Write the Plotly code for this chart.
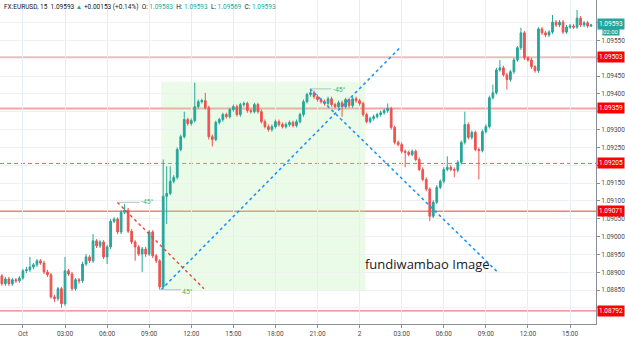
import pandas as pd
import plotly.graph_objects as go

# ---------------- data (EURUSD 15m) ----------------
start_time = "2019-09-30 22:30"

open_ = [1.08890, 1.08868, 1.08881, 1.08868, 1.08879, 1.08876, 1.08884, 1.08904, 1.08907, 1.08915,
         1.08921, 1.08932, 1.08926, 1.08901, 1.08893, 1.08831, 1.08826, 1.08854, 1.08812, 1.08904,
         1.08895, 1.08854, 1.08879, 1.08876, 1.08923, 1.08943, 1.08932, 1.08988, 1.08974, 1.08985,
         1.08943, 1.08971, 1.09043, 1.09049, 1.09013, 1.09068, 1.09074, 1.09015, 1.08985, 1.08971,
         1.08951, 1.08965, 1.08951, 1.09013, 1.08946, 1.08932, 1.08859, 1.09113, 1.09121, 1.09155,
         1.09166, 1.09244, 1.09280, 1.09328, 1.09317, 1.09325, 1.09364, 1.09378, 1.09381, 1.09361,
         1.09280, 1.09272, 1.09320, 1.09328, 1.09342, 1.09336, 1.09356, 1.09364, 1.09342, 1.09370,
         1.09373, 1.09353, 1.09350, 1.09370, 1.09350, 1.09322, 1.09308, 1.09300, 1.09308, 1.09322,
         1.09314, 1.09308, 1.09314, 1.09320, 1.09311, 1.09322, 1.09342, 1.09378, 1.09398, 1.09403,
         1.09392, 1.09384, 1.09378, 1.09373, 1.09386, 1.09370, 1.09364, 1.09375, 1.09364, 1.09384,
         1.09367, 1.09386, 1.09381, 1.09373, 1.09342, 1.09322, 1.09331, 1.09336, 1.09342, 1.09347,
         1.09353, 1.09359, 1.09306, 1.09264, 1.09258, 1.09239, 1.09236, 1.09230, 1.09239, 1.09216,
         1.09188, 1.09160, 1.09133, 1.09057, 1.09096, 1.09138, 1.09155, 1.09188, 1.09194, 1.09188,
         1.09186, 1.09208, 1.09264, 1.09314, 1.09278, 1.09292, 1.09244, 1.09241, 1.09294, 1.09308,
         1.09389, 1.09403, 1.09467, 1.09473, 1.09453, 1.09440, 1.09462, 1.09495, 1.09529, 1.09571,
         1.09501, 1.09495, 1.09476, 1.09465, 1.09582, 1.09571, 1.09565, 1.09573, 1.09601, 1.09593,
         1.09601, 1.09573, 1.09587, 1.09590, 1.09587, 1.09612, 1.09593, 1.09599, 1.09590]

high = [1.08895, 1.08887, 1.08887, 1.08884, 1.08884, 1.08890, 1.08909, 1.08915, 1.08943, 1.08926,
        1.08937, 1.08937, 1.08932, 1.08907, 1.08898, 1.08837, 1.08859, 1.08859, 1.08943, 1.08909,
        1.08901, 1.08884, 1.08884, 1.08929, 1.08951, 1.08948, 1.09007, 1.08993, 1.08990, 1.08990,
        1.08976, 1.09049, 1.09054, 1.09054, 1.09074, 1.09091, 1.09080, 1.09021, 1.08990, 1.08976,
        1.08971, 1.08971, 1.09018, 1.09018, 1.08951, 1.08937, 1.09216, 1.09197, 1.09197, 1.09172,
        1.09250, 1.09286, 1.09350, 1.09333, 1.09331, 1.09431, 1.09384, 1.09386, 1.09403, 1.09367,
        1.09286, 1.09325, 1.09333, 1.09347, 1.09347, 1.09361, 1.09370, 1.09370, 1.09375, 1.09378,
        1.09378, 1.09359, 1.09375, 1.09375, 1.09356, 1.09328, 1.09314, 1.09314, 1.09328, 1.09328,
        1.09320, 1.09320, 1.09325, 1.09325, 1.09328, 1.09347, 1.09384, 1.09403, 1.09414, 1.09409,
        1.09398, 1.09389, 1.09384, 1.09392, 1.09392, 1.09375, 1.09381, 1.09381, 1.09389, 1.09389,
        1.09392, 1.09392, 1.09386, 1.09378, 1.09347, 1.09336, 1.09342, 1.09347, 1.09353, 1.09359,
        1.09373, 1.09364, 1.09311, 1.09269, 1.09264, 1.09244, 1.09241, 1.09244, 1.09244, 1.09222,
        1.09194, 1.09166, 1.09138, 1.09102, 1.09144, 1.09160, 1.09194, 1.09225, 1.09200, 1.09194,
        1.09214, 1.09269, 1.09350, 1.09320, 1.09297, 1.09297, 1.09250, 1.09300, 1.09314, 1.09395,
        1.09426, 1.09473, 1.09495, 1.09479, 1.09459, 1.09467, 1.09501, 1.09534, 1.09585, 1.09576,
        1.09506, 1.09501, 1.09481, 1.09587, 1.09587, 1.09576, 1.09579, 1.09621, 1.09607, 1.09607,
        1.09607, 1.09593, 1.09596, 1.09596, 1.09635, 1.09618, 1.09604, 1.09604, 1.09596]

low = [1.08862, 1.08862, 1.08862, 1.08862, 1.08870, 1.08870, 1.08879, 1.08898, 1.08901, 1.08909,
       1.08915, 1.08921, 1.08895, 1.08887, 1.08826, 1.08817, 1.08820, 1.08801, 1.08806, 1.08890,
       1.08848, 1.08848, 1.08868, 1.08870, 1.08918, 1.08926, 1.08926, 1.08968, 1.08968, 1.08937,
       1.08923, 1.08965, 1.09038, 1.09007, 1.09007, 1.09063, 1.09010, 1.08979, 1.08932, 1.08946,
       1.08901, 1.08943, 1.08946, 1.08940, 1.08926, 1.08851, 1.08854, 1.09035, 1.09116, 1.09149,
       1.09160, 1.09239, 1.09275, 1.09311, 1.09311, 1.09320, 1.09359, 1.09373, 1.09356, 1.09272,
       1.09253, 1.09267, 1.09314, 1.09322, 1.09331, 1.09331, 1.09350, 1.09336, 1.09336, 1.09364,
       1.09347, 1.09345, 1.09345, 1.09345, 1.09317, 1.09303, 1.09294, 1.09294, 1.09303, 1.09308,
       1.09303, 1.09303, 1.09308, 1.09306, 1.09306, 1.09317, 1.09336, 1.09373, 1.09392, 1.09386,
       1.09378, 1.09373, 1.09367, 1.09367, 1.09364, 1.09359, 1.09359, 1.09336, 1.09359, 1.09361,
       1.09361, 1.09375, 1.09367, 1.09336, 1.09317, 1.09317, 1.09325, 1.09331, 1.09336, 1.09342,
       1.09347, 1.09300, 1.09258, 1.09253, 1.09233, 1.09194, 1.09225, 1.09225, 1.09211, 1.09183,
       1.09155, 1.09127, 1.09043, 1.09052, 1.09091, 1.09133, 1.09149, 1.09183, 1.09183, 1.09166,
       1.09180, 1.09202, 1.09258, 1.09272, 1.09272, 1.09239, 1.09160, 1.09236, 1.09289, 1.09303,
       1.09384, 1.09398, 1.09462, 1.09448, 1.09412, 1.09434, 1.09456, 1.09490, 1.09523, 1.09495,
       1.09490, 1.09470, 1.09459, 1.09459, 1.09565, 1.09559, 1.09559, 1.09568, 1.09587, 1.09587,
       1.09568, 1.09568, 1.09582, 1.09582, 1.09582, 1.09587, 1.09587, 1.09585, 1.09587]

close = [1.08868, 1.08881, 1.08868, 1.08879, 1.08876, 1.08884, 1.08904, 1.08907, 1.08915, 1.08921,
         1.08932, 1.08926, 1.08901, 1.08893, 1.08831, 1.08826, 1.08854, 1.08812, 1.08904, 1.08895,
         1.08854, 1.08879, 1.08876, 1.08923, 1.08943, 1.08932, 1.08988, 1.08974, 1.08985, 1.08943,
         1.08971, 1.09043, 1.09049, 1.09013, 1.09068, 1.09074, 1.09015, 1.08985, 1.08971, 1.08951,
         1.08965, 1.08951, 1.09013, 1.08946, 1.08932, 1.08859, 1.09113, 1.09121, 1.09155, 1.09166,
         1.09244, 1.09280, 1.09328, 1.09317, 1.09325, 1.09364, 1.09378, 1.09381, 1.09361, 1.09280,
         1.09272, 1.09320, 1.09328, 1.09342, 1.09336, 1.09356, 1.09364, 1.09342, 1.09370, 1.09373,
         1.09353, 1.09350, 1.09370, 1.09350, 1.09322, 1.09308, 1.09300, 1.09308, 1.09322, 1.09314,
         1.09308, 1.09314, 1.09320, 1.09311, 1.09322, 1.09342, 1.09378, 1.09398, 1.09403, 1.09392,
         1.09384, 1.09378, 1.09373, 1.09386, 1.09370, 1.09364, 1.09375, 1.09364, 1.09384, 1.09367,
         1.09386, 1.09381, 1.09373, 1.09342, 1.09322, 1.09331, 1.09336, 1.09342, 1.09347, 1.09353,
         1.09359, 1.09306, 1.09264, 1.09258, 1.09239, 1.09236, 1.09230, 1.09239, 1.09216, 1.09188,
         1.09160, 1.09133, 1.09057, 1.09096, 1.09138, 1.09155, 1.09188, 1.09194, 1.09188, 1.09186,
         1.09208, 1.09264, 1.09314, 1.09278, 1.09292, 1.09244, 1.09241, 1.09294, 1.09308, 1.09389,
         1.09403, 1.09467, 1.09473, 1.09453, 1.09440, 1.09462, 1.09495, 1.09529, 1.09571, 1.09501,
         1.09495, 1.09476, 1.09465, 1.09582, 1.09571, 1.09565, 1.09573, 1.09601, 1.09593, 1.09601,
         1.09573, 1.09587, 1.09590, 1.09587, 1.09612, 1.09593, 1.09599, 1.09590, 1.09593]

times = pd.date_range(start_time, periods=len(close), freq="15min")

# axis ticks
x_tickvals = pd.date_range("2019-10-01 00:00", "2019-10-02 15:00", freq="3h")
x_ticktext = ["Oct", "03:00", "06:00", "09:00", "12:00", "15:00", "18:00", "21:00",
              "2", "03:00", "06:00", "09:00", "12:00", "15:00"]
y_tickvals = [1.0880, 1.0885, 1.0890, 1.0895, 1.0900, 1.0905, 1.0910, 1.0915, 1.0920,
              1.0925, 1.0930, 1.0935, 1.0940, 1.0945, 1.0950, 1.0955, 1.0960]
# labels hidden behind the level / price tags are left blank
y_ticktext = ["", "1.08850", "1.08900", "1.08950", "1.09000", "1.09050", "1.09100", "1.09150", "",
              "1.09250", "1.09300", "", "1.09400", "1.09450", "", "1.09550", ""]

# horizontal levels drawn on the chart
level_prices = [1.09503, 1.09359, 1.09205, 1.09071, 1.08792]
level_labels = ["1.09503", "1.09359", "1.09205", "1.09071", "1.08792"]
level_dash = ["solid", "solid", "4px,3px", "solid", "solid"]
level_width = [1, 2, 1, 1.3, 1.3]
level_color = ["#e88a8a", "#f7a3a3", "#f45a5a", "#f08080", "#f27a7a"]

last_price_label = "1.09593"
countdown_label = "02:00"

# drawing tools
box_time = ["2019-10-01 09:51", "2019-10-02 00:25"]
box_price = [1.08850, 1.09434]
blue_line1_time = ["2019-10-01 09:51", "2019-10-02 02:52"]
blue_line1_price = [1.08851, 1.09529]
blue_line2_time = ["2019-10-01 20:28", "2019-10-02 09:49"]
blue_line2_price = [1.09414, 1.08901]
red_line_time = ["2019-10-01 06:44", "2019-10-01 12:54"]
red_line_price = [1.09096, 1.08854]
angle_time0 = ["2019-10-01 09:51", "2019-10-01 06:44", "2019-10-01 20:28"]
angle_time1 = ["2019-10-01 11:16", "2019-10-01 08:18", "2019-10-01 21:59"]
angle_price = [1.08851, 1.09096, 1.09414]
angle_text = ["45°", "-45°", "-45°"]
angle_text_time = ["2019-10-01 11:45", "2019-10-01 08:52", "2019-10-01 22:36"]
angle_text_price = [1.08846, 1.09096, 1.09412]

watermark_text = "fundiwambao Image"
watermark_time = "2019-10-02 04:50"
watermark_price = 1.08923

header_symbol = "FX:EURUSD, 15"
header_last = "1.09593"
header_change = "+0.00153 (+0.14%)"
header_ohlc = [("O:", "1.09583"), ("H:", "1.09593"), ("L:", "1.09569"), ("C:", "1.09593")]

# ---------------- figure ----------------
UP = "#26a69a"
DOWN = "#ef5350"

fig = go.Figure()
fig.add_trace(go.Candlestick(
    x=times, open=open_, high=high, low=low, close=close,
    increasing=dict(line=dict(color=UP, width=1), fillcolor=UP),
    decreasing=dict(line=dict(color=DOWN, width=1), fillcolor=DOWN),
    whiskerwidth=0, showlegend=False, hoverinfo="skip",
))

shapes = []
# green box
shapes.append(dict(type="rect", xref="x", yref="y", x0=box_time[0], x1=box_time[1],
                   y0=box_price[0], y1=box_price[1], fillcolor="rgba(170,240,160,0.25)",
                   line=dict(width=0), layer="below"))
# levels
for p, d, w, c in zip(level_prices, level_dash, level_width, level_color):
    shapes.append(dict(type="line", xref="paper", yref="y", x0=0, x1=1, y0=p, y1=p,
                       line=dict(color=c, width=w, dash=d), layer="below"))
# trend lines
shapes.append(dict(type="line", xref="x", yref="y", x0=blue_line1_time[0], x1=blue_line1_time[1],
                   y0=blue_line1_price[0], y1=blue_line1_price[1],
                   line=dict(color="#2196f3", width=1.6, dash="dot"), layer="above"))
shapes.append(dict(type="line", xref="x", yref="y", x0=blue_line2_time[0], x1=blue_line2_time[1],
                   y0=blue_line2_price[0], y1=blue_line2_price[1],
                   line=dict(color="#2196f3", width=1.6, dash="dot"), layer="above"))
shapes.append(dict(type="line", xref="x", yref="y", x0=red_line_time[0], x1=red_line_time[1],
                   y0=red_line_price[0], y1=red_line_price[1],
                   line=dict(color="#e8453c", width=1.4, dash="dot"), layer="above"))
for t0, t1, p in zip(angle_time0, angle_time1, angle_price):
    shapes.append(dict(type="line", xref="x", yref="y", x0=t0, x1=t1, y0=p, y1=p,
                       line=dict(color="#b0c4d0", width=1), layer="above"))

annotations = []
# header
hdr = (f"<span style='color:#131722'>{header_symbol}  {header_last} </span>"
       f"<span style='color:#26a69a'>▲</span>"
       f"<span style='color:#131722'> {header_change}  </span>")
for k, v in header_ohlc:
    hdr += f"<span style='color:#131722'>{k} </span><span style='color:#26a69a'>{v}</span>  "
annotations.append(dict(xref="paper", yref="paper", x=0.003, y=1, xanchor="left", yanchor="top",
                        text=hdr, showarrow=False, yshift=-1,
                        font=dict(size=6.5, family="Roboto")))
# level labels
for p, t in zip(level_prices, level_labels):
    annotations.append(dict(xref="paper", yref="y", x=1, y=p, xanchor="left", yanchor="middle",
                            text=t, showarrow=False, bgcolor="#ff0000", borderpad=1,
                            font=dict(size=6.5, color="white", family="Roboto"), xshift=1))
annotations.append(dict(xref="paper", yref="y", x=1, y=close[-1], xanchor="left", yanchor="middle",
                        text=last_price_label, showarrow=False, bgcolor=UP, borderpad=1,
                        font=dict(size=6.5, color="white", family="Roboto"), xshift=1, yshift=1))
annotations.append(dict(xref="paper", yref="y", x=1, y=close[-1], xanchor="left", yanchor="middle",
                        text=countdown_label, showarrow=False, bgcolor=UP, borderpad=0,
                        font=dict(size=6, color="white", family="Roboto"), xshift=6, yshift=-7))
# angle labels
for t, tt, p in zip(angle_text, angle_text_time, angle_text_price):
    annotations.append(dict(xref="x", yref="y", x=tt, y=p, text=t, showarrow=False,
                            font=dict(size=7, color="#4caf50", family="Roboto")))
# watermark text
annotations.append(dict(xref="x", yref="y", x=watermark_time, y=watermark_price,
                        text=watermark_text, showarrow=False,
                        font=dict(size=13, color="#1a1a1a", family="Open Sans")))

fig.update_layout(
    width=625, height=338,
    margin=dict(l=0, r=26, t=0, b=13),
    paper_bgcolor="white", plot_bgcolor="white",
    shapes=shapes, annotations=annotations,
    showlegend=False,
    xaxis=dict(
        type="date", range=["2019-09-30 22:22", "2019-10-02 16:51"],
        rangeslider=dict(visible=False),
        tickvals=x_tickvals, ticktext=x_ticktext,
        showgrid=True, gridcolor="#e6eef4", gridwidth=1,
        showline=True, linecolor="#8a8e96", linewidth=1,
        ticks="outside", ticklen=3, tickcolor="#8a8e96",
        tickfont=dict(size=6.5, color="#4a4a4a", family="Roboto"),
        zeroline=False, fixedrange=True,
    ),
    yaxis=dict(
        side="right", range=[1.08755, 1.09663],
        tickvals=y_tickvals, ticktext=y_ticktext,
        showgrid=True, gridcolor="#eef0f3", gridwidth=1,
        showline=True, linecolor="#8a8e96", linewidth=1,
        ticks="outside", ticklen=3, tickcolor="#8a8e96",
        tickfont=dict(size=6.5, color="#4a4a4a", family="Roboto"),
        zeroline=False, fixedrange=True,
    ),
)

fig.write_html("out.html")
